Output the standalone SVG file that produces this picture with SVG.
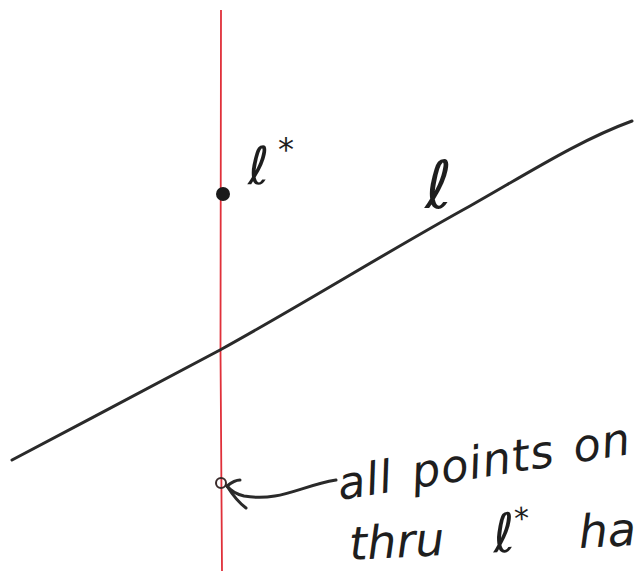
<svg xmlns="http://www.w3.org/2000/svg" width="640" height="571" viewBox="0 0 640 571">
<style>
.ink{fill:none;stroke:#2a2a2a;stroke-width:3;stroke-linecap:round;stroke-linejoin:round}
.hand{font-family:"DejaVu Sans","Liberation Sans",sans-serif;font-style:italic;fill:#1e1e1e}
</style>
<rect width="640" height="571" fill="#fff"/>
<g id="redline"><path d="M221 10 L220.5 350 L222 571" fill="none" stroke="#e0303a" stroke-width="1.8"/></g>
<g id="line-l"><path class="ink" d="M12 460 C80 424 160 382 220 350 C300 306 390 250 470 206 C530 172 580 140 632 121"/></g>
<g id="point-lstar"><circle cx="223" cy="194" r="7" fill="#1a1a1a"/></g>
<g id="point-open"><circle cx="221" cy="483" r="5" fill="none" stroke="#3a2a2a" stroke-width="2"/></g>
<g id="connectors">
<path class="ink" d="M336 480 C300 486 280 502 244 496 C236 494 230 490 227 486"/>
<path class="ink" d="M227 486 C232 482 236 480 240 480"/>
<path class="ink" d="M227 486 C232 494 238 502 246 508"/>
</g>
<g id="label-lstar"><text class="hand" x="248" y="184" font-size="52">ℓ</text><text class="hand" x="278" y="160" font-size="32">*</text></g>
<g id="label-l"><text class="hand" x="425" y="208" font-size="66">ℓ</text></g>
<g id="note">
<text class="hand" font-size="45" letter-spacing="1" word-spacing="4" transform="translate(340 500) rotate(-9)">all points on</text>
<text class="hand" font-size="46" word-spacing="34" transform="translate(350 560) rotate(-3)">thru <tspan font-size="54">ℓ</tspan><tspan font-size="30" dy="-22">*</tspan><tspan dy="22"> ha</tspan></text>
</g>
</svg>
